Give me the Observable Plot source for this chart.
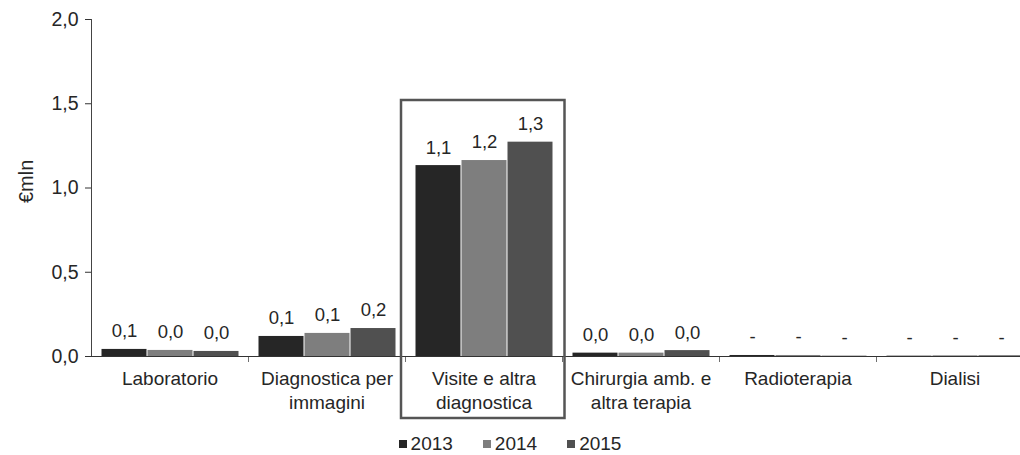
<!DOCTYPE html>
<html>
<head>
<meta charset="utf-8">
<script src="https://cdn.jsdelivr.net/npm/d3@7"></script>
<script src="https://cdn.jsdelivr.net/npm/@observablehq/plot@0.6"></script>
<style>
  html, body { margin: 0; padding: 0; background: #fff; overflow: hidden; }
  #chart { width: 1020px; }
</style>
</head>
<body>
<div id="chart"></div>
<script>
// ---- data ----
const categories = ["Laboratorio", "Diagnostica per\nimmagini", "Visite e altra\ndiagnostica", "Chirurgia amb. e\naltra terapia", "Radioterapia", "Dialisi"];
const years = ["2013", "2014", "2015"];
const values2013 = [0.042, 0.119, 1.133, 0.020, 0.006, 0.002];
const values2014 = [0.036, 0.137, 1.163, 0.020, 0.006, 0.004];
const values2015 = [0.030, 0.166, 1.272, 0.035, 0.002, 0.004];
const labels2013 = ["0,1", "0,1", "1,1", "0,0", "-", "-"];
const labels2014 = ["0,0", "0,1", "1,2", "0,0", "-", "-"];
const labels2015 = ["0,0", "0,2", "1,3", "0,0", "-", "-"];
const yTicks = [0, 0.5, 1.0, 1.5, 2.0];
const yLabel = ["€mln"];
const highlighted = ["Visite e altra\ndiagnostica"];
const yearColors = ["#262626", "#7e7e7e", "#505050"];

const seriesValues = [values2013, values2014, values2015];
const seriesLabels = [labels2013, labels2014, labels2015];
const rows = [];
categories.forEach((c, i) => years.forEach((y, j) => rows.push({cat: c, year: y, value: seriesValues[j][i], label: seriesLabels[j][i]})));

const font = "'Liberation Sans', Arial, sans-serif";
const W = 1020, H = 427, ML = 89, MR = -14;
const bandW = (W - ML - MR) / categories.length;

const chart = Plot.plot({
  width: W,
  height: H,
  marginLeft: ML,
  marginRight: MR,
  marginTop: 19,
  marginBottom: 71,
  style: {fontFamily: font, fontSize: "19px", color: "#262626", background: "#fff"},
  fx: {domain: categories, padding: 0, label: null},
  x: {domain: years, paddingInner: 0, paddingOuter: 0.2, axis: null},
  y: {domain: [0, 2], label: null},
  color: {domain: years, range: yearColors},
  marks: [
    Plot.axisY({ticks: yTicks, tickFormat: d => d.toFixed(1).replace(".", ","), tickSize: 6, tickPadding: 7, fontSize: 19.5, label: null, stroke: "#333"}),
    Plot.text(yLabel, {frameAnchor: "left", facetAnchor: "left", rotate: -90, dx: -65, dy: 15, fontSize: 20, fill: "#262626"}),
    Plot.axisFx({anchor: "bottom", tickSize: 0, tickPadding: 11, fontSize: 19, lineHeight: 1.27, label: null}),
    Plot.frame({anchor: "left", facetAnchor: "left", stroke: "#444"}),
    Plot.barY(rows, {fx: "cat", x: "year", y: "value", fill: "year", insetLeft: 0.5, insetRight: 0.5}),
    Plot.ruleY([0], {stroke: "#333", strokeWidth: 1.2}),
    Plot.rect(categories.slice(1), {fx: d => d, y1: 0, y2: 0, insetBottom: -6, insetRight: bandW - 1.2, fill: "#333"}),
    Plot.text(rows, {fx: "cat", x: "year", y: "value", text: "label", dy: -18, fontSize: 18.5, fill: "#262626"}),
    Plot.rect(highlighted, {fx: d => d, insetTop: 81, insetBottom: -62, insetLeft: -4, insetRight: -2.5, fill: "none", stroke: "#555", strokeWidth: 2.5})
  ]
});

document.getElementById("chart").appendChild(chart);
const legend = chart.legend("color", {swatchSize: 8});
legend.style.font = "19px " + font;
legend.style.color = "#262626";
legend.style.justifyContent = "center";
legend.style.marginLeft = "0";
const items = Array.from(legend.children).filter(el => el.tagName.toLowerCase() === "span");
items.forEach((el, i) => {
  el.style.marginRight = i === items.length - 1 ? "0px" : "30px";
  const sw = el.querySelector("svg");
  if (sw) sw.style.marginRight = "4px";
});
document.getElementById("chart").appendChild(legend);
</script>
</body>
</html>
